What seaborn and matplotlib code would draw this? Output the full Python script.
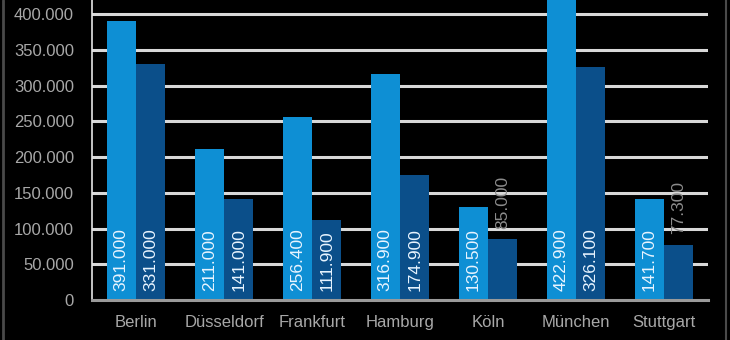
import matplotlib
matplotlib.use("Agg")
import matplotlib.pyplot as plt
import seaborn as sns
import pandas as pd
from matplotlib.lines import Line2D

cities = ["Berlin", "Düsseldorf", "Frankfurt", "Hamburg", "Köln", "München", "Stuttgart"]
series_a = [391000, 211000, 256400, 316900, 130500, 422900, 141700]
series_b = [331000, 141000, 111900, 174900, 85000, 326100, 77300]
label_a = ["391.000", "211.000", "256.400", "316.900", "130.500", "422.900", "141.700"]
label_b = ["331.000", "141.000", "111.900", "174.900", "85.000", "326.100", "77.300"]
yticks = [0, 50000, 100000, 150000, 200000, 250000, 300000, 350000, 400000]
ytick_labels = ["0", "50.000", "100.000", "150.000", "200.000", "250.000", "300.000", "350.000", "400.000"]

df = pd.DataFrame({
    "city": cities * 2,
    "value": series_a + series_b,
    "series": ["A"] * len(cities) + ["B"] * len(cities),
})

sns.set_style("dark")
plt.rcParams["font.family"] = ["Liberation Sans", "DejaVu Sans"]

fig = plt.figure(figsize=(7.3, 3.4), dpi=100, facecolor="black")
ax = fig.add_axes([92 / 730, 40 / 340, 616 / 730, 300 / 340])
ax.set_facecolor("black")

light = "#0e8fd4"
dark = "#0b4f8a"
sns.barplot(data=df, x="city", y="value", hue="series", palette=[light, dark],
            width=0.67, saturation=1, legend=False, ax=ax, zorder=3, linewidth=0)

ax.set_xlim(-0.5, 6.5)
ax.set_ylim(0, 420000)
ax.set_yticks(yticks)
ax.set_yticklabels(ytick_labels)
ax.set_xlabel("")
ax.set_ylabel("")
ax.grid(False)
for t in yticks[1:]:
    ax.axhline(t, color="#d8d8d8", lw=2.2, zorder=1)

for s in ["top", "right"]:
    ax.spines[s].set_visible(False)
ax.spines["left"].set_color("#e6e6e6")
ax.spines["left"].set_linewidth(1.2)
ax.spines["bottom"].set_color("#9a9a9a")
ax.spines["bottom"].set_linewidth(2.2)
ax.spines["bottom"].set_zorder(4)

ax.tick_params(axis="both", length=0, colors="#a8a8a8", labelsize=12)
ax.tick_params(axis="y", pad=13)
ax.tick_params(axis="x", pad=11)

# bar labels
containers = ax.containers
for cont, labels in zip(containers, [label_a, label_b]):
    for rect, lab in zip(cont, labels):
        h = rect.get_height()
        xc = rect.get_x() + rect.get_width() / 2
        if h > 100000:
            ax.text(xc, 12000, lab, rotation=90, ha="center", va="bottom",
                    color="#e8f4ff", fontsize=12.5, zorder=5)
        else:
            ax.text(xc, h + 15000, lab, rotation=90, ha="center", va="bottom",
                    color="#8c8c8c", fontsize=12.5, zorder=5)

# outer frame lines
fig.add_artist(Line2D([3 / 730, 3 / 730], [0, 1], transform=fig.transFigure, color="#4a4a4a", lw=2))
fig.add_artist(Line2D([726 / 730, 726 / 730], [0, 1], transform=fig.transFigure, color="#4a4a4a", lw=1.5))

fig.savefig("out.png", dpi=100, facecolor="black")
